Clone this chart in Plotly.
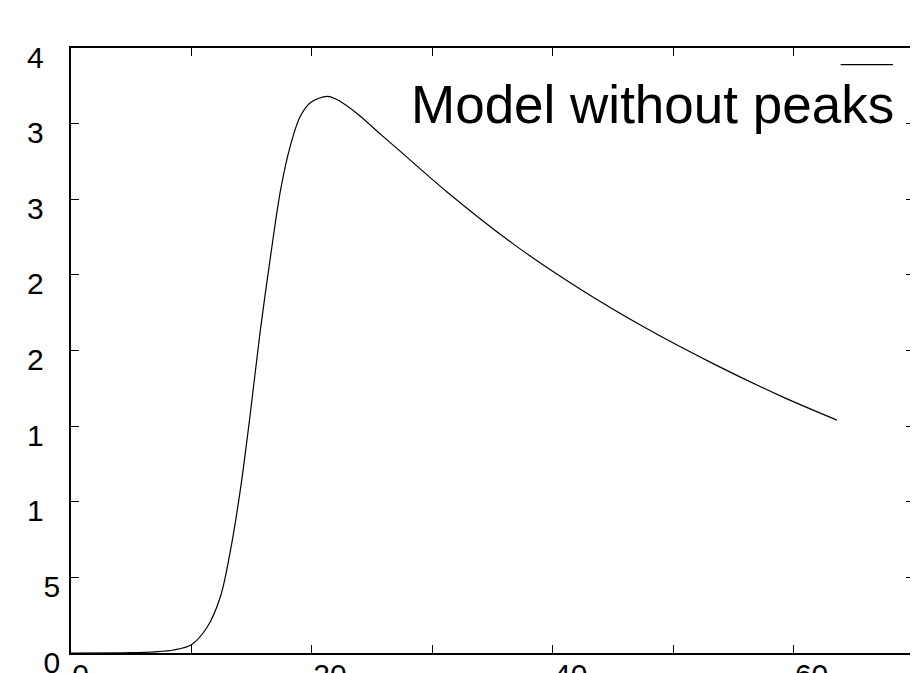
import plotly.graph_objects as go

# Curve values
x_vals = [0, 5, 7, 8.5, 10, 11.3, 12.4, 13.2, 14.1, 14.9, 15.7, 16.6, 17.4, 18.2,
          19.05, 19.9, 21.3, 22.4, 23.7, 25.7, 27.3, 31.2, 36.8, 42.3, 47.8, 53.4,
          58.9, 63.6]
y_vals = [0, 0.02, 0.08, 0.2, 0.55, 1.7, 3.7, 6.6, 11.0, 15.9, 21.2, 26.4, 30.6, 33.5,
          35.5, 36.4, 36.8, 36.45, 35.7, 34.3, 33.2, 30.5, 27.0, 24.05, 21.45, 19.1,
          17.0, 15.4]

series_name = "Model without peaks"

# Tick values and the (clipped) tick labels as visible in the reference
x_tickvals = [0, 10, 20, 30, 40, 50, 60, 70]
x_ticktext = ["0", "", "20", "", "40", "", "60", ""]
y_tickvals = [0, 5, 10, 15, 20, 25, 30, 35, 40]
y_ticktext = ["0", "5", "1\u2007", "1\u2007", "2\u2007", "2\u2007", "3\u2007", "3\u2007", "4\u2007"]

FONT = "Liberation Sans, Arial, Helvetica, sans-serif"

fig = go.Figure()
fig.add_trace(go.Scatter(
    x=x_vals, y=y_vals, mode="lines", name=series_name,
    line=dict(color="black", width=1.2, shape="spline", smoothing=0.9),
    showlegend=False, hoverinfo="skip",
))

axis_common = dict(
    showline=True, linecolor="black", linewidth=1.5, mirror="ticks",
    ticks="inside", ticklen=8, tickwidth=1.2, tickcolor="black",
    showgrid=False, zeroline=False, automargin=False,
    ticklabeloverflow="allow",
    tickfont=dict(family=FONT, size=30, color="black"),
)

fig.update_xaxes(range=[0, 70], tickmode="array", tickvals=x_tickvals,
                 ticktext=x_ticktext, ticklabelposition="outside right",
                 ticklabelstandoff=-6, **axis_common)
fig.update_yaxes(range=[0, 40], tickmode="array", tickvals=y_tickvals,
                 ticktext=y_ticktext, ticklabelstandoff=3,
                 ticklabelshift=9, **axis_common)

# Key: line sample at top right, text below it
fig.add_shape(type="line", xref="paper", yref="paper",
              x0=0.913, x1=0.975, y0=0.9726, y1=0.9726,
              line=dict(color="black", width=1.2))
fig.add_annotation(text=series_name, xref="paper", yref="paper",
                   x=0.979, y=0.906, xanchor="right", yanchor="middle",
                   showarrow=False,
                   font=dict(family=FONT, size=53, color="black"))

fig.update_layout(
    width=918, height=673,
    margin=dict(l=63, r=12, t=40, b=28, pad=0),
    paper_bgcolor="white", plot_bgcolor="white",
    font=dict(family=FONT, color="black"),
)

fig.write_html("out.html")
